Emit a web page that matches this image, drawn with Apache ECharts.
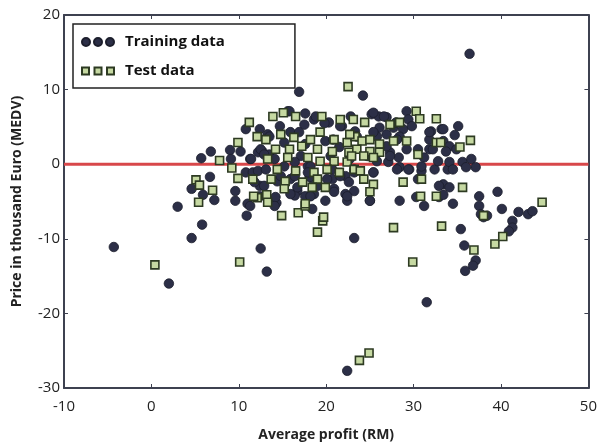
<!DOCTYPE html>
<html>
<head>
<meta charset="utf-8">
<style>
  html, body { margin: 0; padding: 0; background: #fff; }
  #main { width: 600px; height: 447px; }
</style>
</head>
<body>
<div id="main"></div>
<script src="https://cdn.jsdelivr.net/npm/echarts@6/dist/echarts.min.js"></script>
<script type="text/javascript">

    // Training data (circles): [average profit, price]
    var trainingData = [
        [-4.3,-11.1],[2.0,-16.0],[3.0,-5.7],[4.6,-9.9],[5.8,-8.1],[6.7,-1.7],[5.7,0.8],[6.8,1.7],[4.6,-3.3],[5.9,-4.1],
        [7.2,-4.8],[9.6,-3.6],[9.6,-4.9],[10.9,-6.9],[9.0,1.9],[10.2,1.7],[9.1,0.7],[11.3,0.7],[10.8,-1.1],[11.6,-1.1],
        [11.0,-5.3],[12.4,-2.9],[14.3,-5.2],[12.5,-11.3],[13.2,-14.4],[10.8,4.7],[13.3,4.0],[15.6,7.1],[17.6,6.8],[15.9,4.3],
        [17.5,5.3],[12.7,1.7],[12.2,1.6],[13.5,1.3],[14.4,-2.3],[15.9,-2.0],[16.7,-3.6],[18.2,-4.2],[18.6,-2.4],[16.4,-4.2],
        [15.2,-0.3],[17.1,1.1],[17.9,-0.3],[16.9,9.7],[14.7,5.1],[15.8,7.1],[18.6,6.0],[20.3,5.6],[21.8,5.1],[12.4,4.7],
        [13.5,3.7],[16.9,4.3],[12.5,2.0],[15.2,2.9],[17.6,2.7],[19.9,3.1],[21.5,2.3],[11.4,0.7],[12.9,1.3],[14.1,0.7],
        [16.4,0.3],[18.2,-0.3],[20.7,-0.7],[12.2,-0.9],[13.1,-0.7],[14.8,-1.6],[16.4,-1.6],[18.1,-1.7],[20.7,-2.0],[22.2,-1.6],
        [11.8,-2.4],[12.9,-2.9],[16.7,-3.1],[18.6,-4.0],[20.9,-3.3],[22.2,-4.0],[12.4,-4.3],[14.2,-4.4],[15.9,-4.0],[17.6,-4.3],
        [19.9,-4.9],[11.3,-5.6],[14.1,-5.6],[18.4,-6.0],[22.4,-4.9],[24.2,9.2],[25.2,6.7],[26.0,6.4],[26.9,6.3],[29.2,7.1],
        [29.4,6.0],[26.1,4.9],[27.7,4.9],[28.8,4.7],[23.3,4.4],[25.8,3.7],[26.9,4.0],[28.4,3.7],[32.0,4.4],[33.2,4.7],
        [31.8,3.3],[33.4,3.1],[34.1,2.4],[30.5,2.0],[31.8,2.0],[33.7,1.7],[27.3,1.6],[28.3,0.9],[27.1,0.3],[28.4,-0.4],
        [29.5,-0.7],[30.9,-0.9],[32.4,-0.7],[33.9,-0.7],[23.2,-0.7],[25.4,-1.1],[22.6,-2.4],[23.2,-3.6],[25.0,-4.9],[28.4,-4.9],
        [30.3,-4.4],[31.2,-5.6],[33.4,-2.7],[32.9,-4.4],[34.5,-5.3],[36.4,14.8],[35.1,5.1],[34.7,3.9],[33.4,4.7],[31.8,4.3],
        [32.2,2.0],[34.9,2.0],[31.2,0.9],[32.8,0.4],[34.1,0.3],[35.6,0.3],[36.6,0.7],[37.1,-0.4],[36.0,-0.4],[34.5,-0.7],
        [30.9,-0.3],[32.9,-2.9],[34.1,-3.1],[33.4,-4.1],[30.5,-2.0],[37.5,-4.3],[37.5,-5.6],[37.7,-6.7],[38.0,-7.1],[38.4,-6.9],
        [39.6,-3.7],[40.1,-6.0],[42.0,-6.4],[43.1,-6.7],[43.6,-6.3],[41.3,-7.6],[41.3,-8.5],[40.9,-9.0],[35.4,-8.7],[35.8,-10.9],
        [37.1,-12.9],[36.8,-13.6],[35.9,-14.3],[23.2,-9.9],[22.4,-27.7],[31.5,-18.5],[18.8,6.4],[19.8,5.5],[21.6,5.1],[22.8,6.4],
        [25.4,6.9],[26.6,6.4],[28.0,5.6],[29.8,5.1],[20.8,3.3],[23.5,3.7],[25.4,4.3],[26.9,2.4],[28.1,3.3],[29.2,2.0],
        [20.5,1.1],[22.7,0.7],[24.7,1.1],[25.8,0.4],[27.3,1.1],[17.9,-1.1],[20.1,-2.0],[21.6,-1.6],[23.2,-1.1],[25.4,-1.1],
        [28.1,-0.7],[29.4,-0.7],[19.0,-2.9],[20.9,-3.7],[22.4,-4.3],[25.0,-4.9],[18.2,-4.3]
    ];

    // Test data (squares): [average profit, price]
    var testData = [
        [0.4,-13.5],[10.1,-13.1],[5.1,-2.1],[5.5,-2.8],[5.4,-5.1],[7.0,-3.5],[7.8,0.5],[9.9,2.9],[9.2,-0.5],[9.9,-1.9],
        [12.1,-4.5],[13.2,-4.1],[14.9,-6.9],[16.8,-6.5],[17.6,-5.6],[19.6,-7.6],[19.0,-9.1],[11.2,5.6],[12.1,3.7],[13.9,6.4],
        [15.1,6.9],[16.5,6.4],[11.7,-4.3],[19.5,6.4],[21.6,6.0],[23.1,6.0],[13.1,3.3],[14.8,4.0],[16.3,3.6],[18.2,3.3],
        [19.3,4.3],[20.9,3.3],[22.4,2.9],[23.3,3.7],[14.2,2.0],[15.8,2.0],[17.2,2.4],[19.0,2.0],[20.7,1.7],[22.6,1.6],
        [15.6,0.9],[17.9,0.9],[19.3,0.4],[20.9,0.4],[22.4,0.3],[13.3,0.7],[14.4,-0.7],[16.5,-0.9],[18.6,-1.1],[20.1,-0.7],
        [21.5,-1.1],[23.2,-0.7],[13.7,-2.0],[15.3,-2.3],[17.3,-2.4],[19.0,-2.0],[19.9,-3.1],[18.4,-3.1],[15.2,-3.3],[13.3,-5.1],
        [17.6,-5.3],[19.7,-7.1],[11.6,-2.0],[22.5,10.4],[24.4,5.6],[27.3,5.3],[28.4,5.6],[30.3,7.1],[30.7,6.1],[32.6,6.1],
        [22.7,4.0],[24.1,3.1],[25.0,3.3],[26.1,2.7],[27.7,3.1],[29.2,3.1],[23.5,2.0],[25.0,1.7],[26.1,1.6],[22.9,1.1],
        [24.3,1.1],[25.4,0.9],[30.5,1.3],[32.6,2.9],[23.9,-0.9],[24.3,-2.0],[25.4,-2.7],[28.8,-2.4],[30.9,-2.0],[30.8,-4.3],
        [32.6,-4.3],[25.0,-3.7],[36.5,3.2],[35.3,2.3],[33.1,2.9],[35.6,-3.1],[33.2,-8.3],[29.9,-13.1],[27.7,-8.5],[36.9,-11.5],
        [39.3,-10.7],[40.2,-9.7],[38.0,-6.9],[44.7,-5.1],[23.8,-26.3],[24.9,-25.3]
    ];

    // reference line y = 0
    var zeroLine = [[-10, 0], [50, 0]];

    var xTicks = { min: -10, max: 50, interval: 10 };
    var yTicks = { min: -30, max: 20, interval: 10 };

    var axisColor = '#3d4150';
    var font = '"Open Sans", "DejaVu Sans", sans-serif';

    // three markers side by side, like the matplotlib-style legend
    var circlesIcon = 'path://M0,4a4,4 0 1,0 8,0a4,4 0 1,0 -8,0M12,4a4,4 0 1,0 8,0a4,4 0 1,0 -8,0M24,4a4,4 0 1,0 8,0a4,4 0 1,0 -8,0';
    var squaresIcon = 'path://M0,0h7v7h-7zM12.5,0h7v7h-7zM25,0h7v7h-7z';

    var myChart = echarts.init(document.getElementById('main'));

    var hiddenAxis = {
        axisLine: { show: true, onZero: false, lineStyle: { color: axisColor, width: 2 } },
        axisTick: { show: true, inside: true, length: 4, lineStyle: { color: axisColor } },
        axisLabel: { show: false },
        splitLine: { show: false }
    };

    var option = {
        animation: false,
        backgroundColor: '#fff',
        grid: { left: 64, right: 7, top: 15, bottom: 57 },
        legend: {
            left: 73, top: 24,
            orient: 'vertical',
            padding: [8, 70, 7, 8],
            itemGap: 9,
            itemWidth: 32, itemHeight: 8,
            borderColor: '#222', borderWidth: 1.5,
            textStyle: { fontFamily: font, fontSize: 15, fontWeight: 'bold', color: '#111', lineHeight: 20, padding: [0, 0, 0, 6] },
            data: [
                { name: 'Training data', icon: circlesIcon },
                { name: 'Test data', icon: squaresIcon }
            ]
        },
        xAxis: [
            Object.assign({
                type: 'value', position: 'bottom',
                min: xTicks.min, max: xTicks.max, interval: xTicks.interval,
                name: 'Average profit (RM)', nameLocation: 'middle', nameGap: 40,
                nameTextStyle: { fontFamily: font, fontSize: 14, fontWeight: 'bold', color: '#222' }
            }, hiddenAxis, {
                axisLabel: { show: true, margin: 11, fontFamily: font, fontSize: 15, color: '#222' }
            }),
            Object.assign({
                type: 'value', position: 'top',
                min: xTicks.min, max: xTicks.max, interval: xTicks.interval
            }, hiddenAxis)
        ],
        yAxis: [
            Object.assign({
                type: 'value', position: 'left',
                min: yTicks.min, max: yTicks.max, interval: yTicks.interval,
                name: 'Price in thousand Euro (MEDV)', nameLocation: 'middle', nameGap: 40,
                nameTextStyle: { fontFamily: font, fontSize: 14, fontWeight: 'bold', color: '#222' }
            }, hiddenAxis, {
                axisLabel: { show: true, margin: 4, fontFamily: font, fontSize: 15, color: '#222' }
            }),
            Object.assign({
                type: 'value', position: 'right',
                min: yTicks.min, max: yTicks.max, interval: yTicks.interval
            }, hiddenAxis)
        ],
        series: [
            {
                name: 'Zero line', type: 'line', data: zeroLine,
                symbol: 'none', silent: true, z: 1,
                lineStyle: { color: '#d8474a', width: 3 }
            },
            {
                name: 'Training data', type: 'scatter', data: trainingData,
                symbol: 'circle', symbolSize: 9.5, z: 2,
                itemStyle: { color: '#2c2f47', borderColor: '#1c1e2c', borderWidth: 0.8, opacity: 1 }
            },
            {
                name: 'Test data', type: 'scatter', data: testData,
                symbol: 'rect', symbolSize: 8, z: 3,
                itemStyle: { color: '#c6d9a2', borderColor: '#2d3a22', borderWidth: 1.6, opacity: 1 }
            }
        ]
    };

    myChart.setOption(option);
</script>
</body>
</html>
